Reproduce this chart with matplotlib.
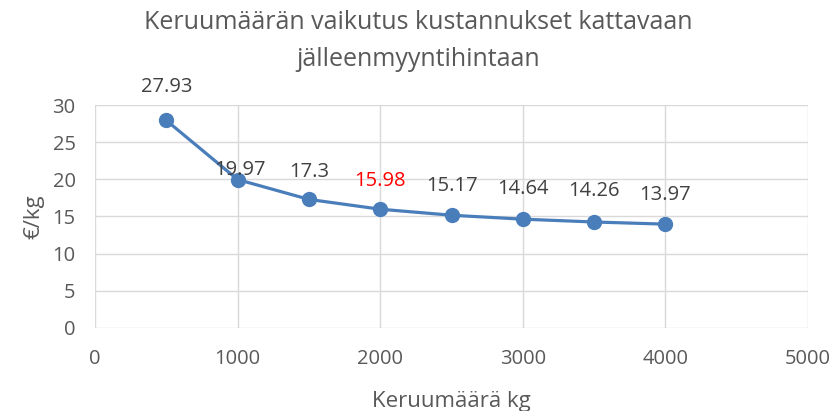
import matplotlib.pyplot as plt

# data
amounts = [500, 1000, 1500, 2000, 2500, 3000, 3500, 4000]
prices = [27.93, 19.97, 17.3, 15.98, 15.17, 14.64, 14.26, 13.97]
label_colors = ['#404040', '#404040', '#404040', 'red', '#404040', '#404040', '#404040', '#404040']
# label offsets in points (x, y)
label_offsets = [(0, 24), (2, 7), (0, 20), (0, 20), (0, 21), (0, 22), (0, 22), (0, 21)]

plt.rcParams['font.family'] = ['Open Sans', 'DejaVu Sans']

fig = plt.figure(figsize=(8.36, 4.11), dpi=100)
ax = fig.add_axes([0.1136, 0.202, 0.853, 0.5425])

ax.plot(amounts, prices, color='#4a7ebb', linewidth=2.3, marker='o', markersize=10, zorder=3)

for x, y, c, off in zip(amounts, prices, label_colors, label_offsets):
    ax.annotate(str(y), (x, y), xytext=off, textcoords='offset points',
                ha='center', va='center', fontsize=14.5, color=c)

ax.set_xlim(0, 5000)
ax.set_ylim(0, 30)
ax.set_xticks(range(0, 5001, 1000))
ax.set_yticks(range(0, 31, 5))
ax.grid(True, color='#d9d9d9', linewidth=1)
ax.set_axisbelow(True)
for s in ax.spines.values():
    s.set_visible(False)
ax.tick_params(length=0, labelsize=14.5, labelcolor='#595959', pad=14)
ax.tick_params(axis='x', pad=15)

ax.set_xlabel('Keruumäärä kg', fontsize=16, color='#595959', labelpad=16)
ax.set_ylabel('€/kg', fontsize=16, color='#595959', labelpad=6)
fig.suptitle('Keruumäärän vaikutus kustannukset kattavaan\njälleenmyyntihintaan',
             fontsize=18, color='#595959', y=0.975, linespacing=1.6)

fig.savefig('out.png', dpi=100)
